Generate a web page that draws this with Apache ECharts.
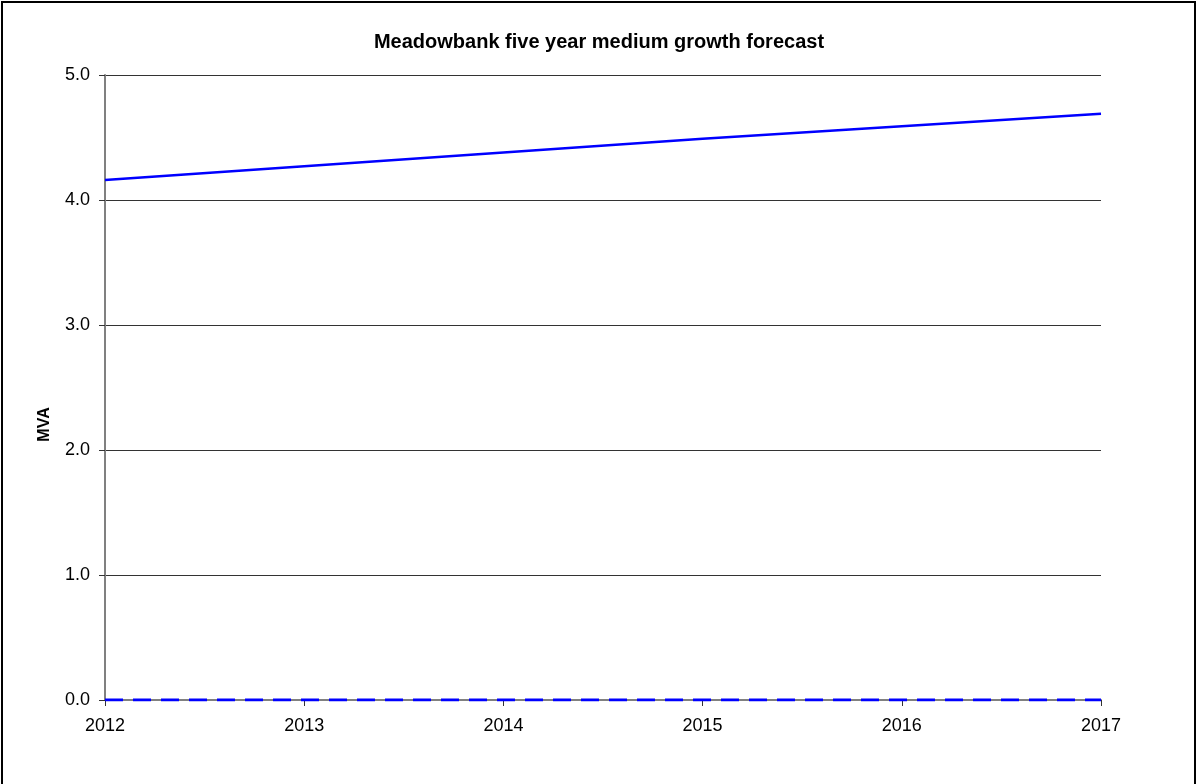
<!DOCTYPE html>
<html>
<head>
<meta charset="utf-8">
<script src="https://cdn.jsdelivr.net/npm/echarts@6/dist/echarts.min.js"></script>
<style>
  html, body { margin: 0; padding: 0; background: #fff; }
  #chart { width: 1198px; height: 784px; }
</style>
</head>
<body>
<div id="chart"></div>
<script>
var chart = echarts.init(document.getElementById('chart'));

var years = ['2012', '2013', '2014', '2015', '2016', '2017'];
var forecast = [4.16, 4.27, 4.38, 4.49, 4.59, 4.69];
var baseline = [0, 0, 0, 0, 0, 0];
var yTicks = [0, 1, 2, 3, 4, 5];

var font = 'Liberation Sans, Arial, sans-serif';

var option = {
  animation: false,
  backgroundColor: '#fff',
  title: {
    text: 'Meadowbank five year medium growth forecast',
    left: 'center',
    top: 27,
    textStyle: { fontFamily: font, fontSize: 20, fontWeight: 'bold', color: '#000' }
  },
  graphic: [{
    type: 'rect',
    shape: { x: 2, y: 2, width: 1193, height: 820 },
    style: { fill: 'none', stroke: '#000', lineWidth: 2 },
    silent: true
  }],
  grid: { left: 105, right: 97, top: 75, bottom: 84 },
  xAxis: {
    type: 'category',
    data: years,
    boundaryGap: false,
    axisLine: { lineStyle: { color: '#808080', width: 2 } },
    axisTick: { show: true, length: 6, lineStyle: { color: '#333' } },
    axisLabel: { margin: 17, fontFamily: font, fontSize: 18, color: '#000' },
    splitLine: { show: false }
  },
  yAxis: {
    type: 'value',
    min: yTicks[0],
    max: yTicks[yTicks.length - 1],
    interval: 1,
    name: 'MVA',
    nameLocation: 'middle',
    nameGap: 52,
    nameTextStyle: {
      fontFamily: font, fontSize: 16, fontWeight: 'bold', color: '#000',
      padding: [0, 74, 0, 0]
    },
    axisLine: { show: true, lineStyle: { color: '#808080', width: 2 } },
    axisTick: { show: true, length: 6, lineStyle: { color: '#333' } },
    axisLabel: {
      margin: 15, fontFamily: font, fontSize: 18, color: '#000',
      formatter: function (v) { return v.toFixed(1); }
    },
    splitLine: { show: true, lineStyle: { color: '#333', width: 1 } }
  },
  series: [
    {
      type: 'line',
      data: forecast,
      symbol: 'none',
      lineStyle: { color: '#0000ff', width: 2.5 },
      z: 3
    },
    {
      type: 'line',
      data: baseline,
      symbol: 'none',
      lineStyle: { color: '#0000ff', width: 3, type: [18, 10] },
      z: 4
    }
  ]
};

chart.setOption(option);
</script>
</body>
</html>
